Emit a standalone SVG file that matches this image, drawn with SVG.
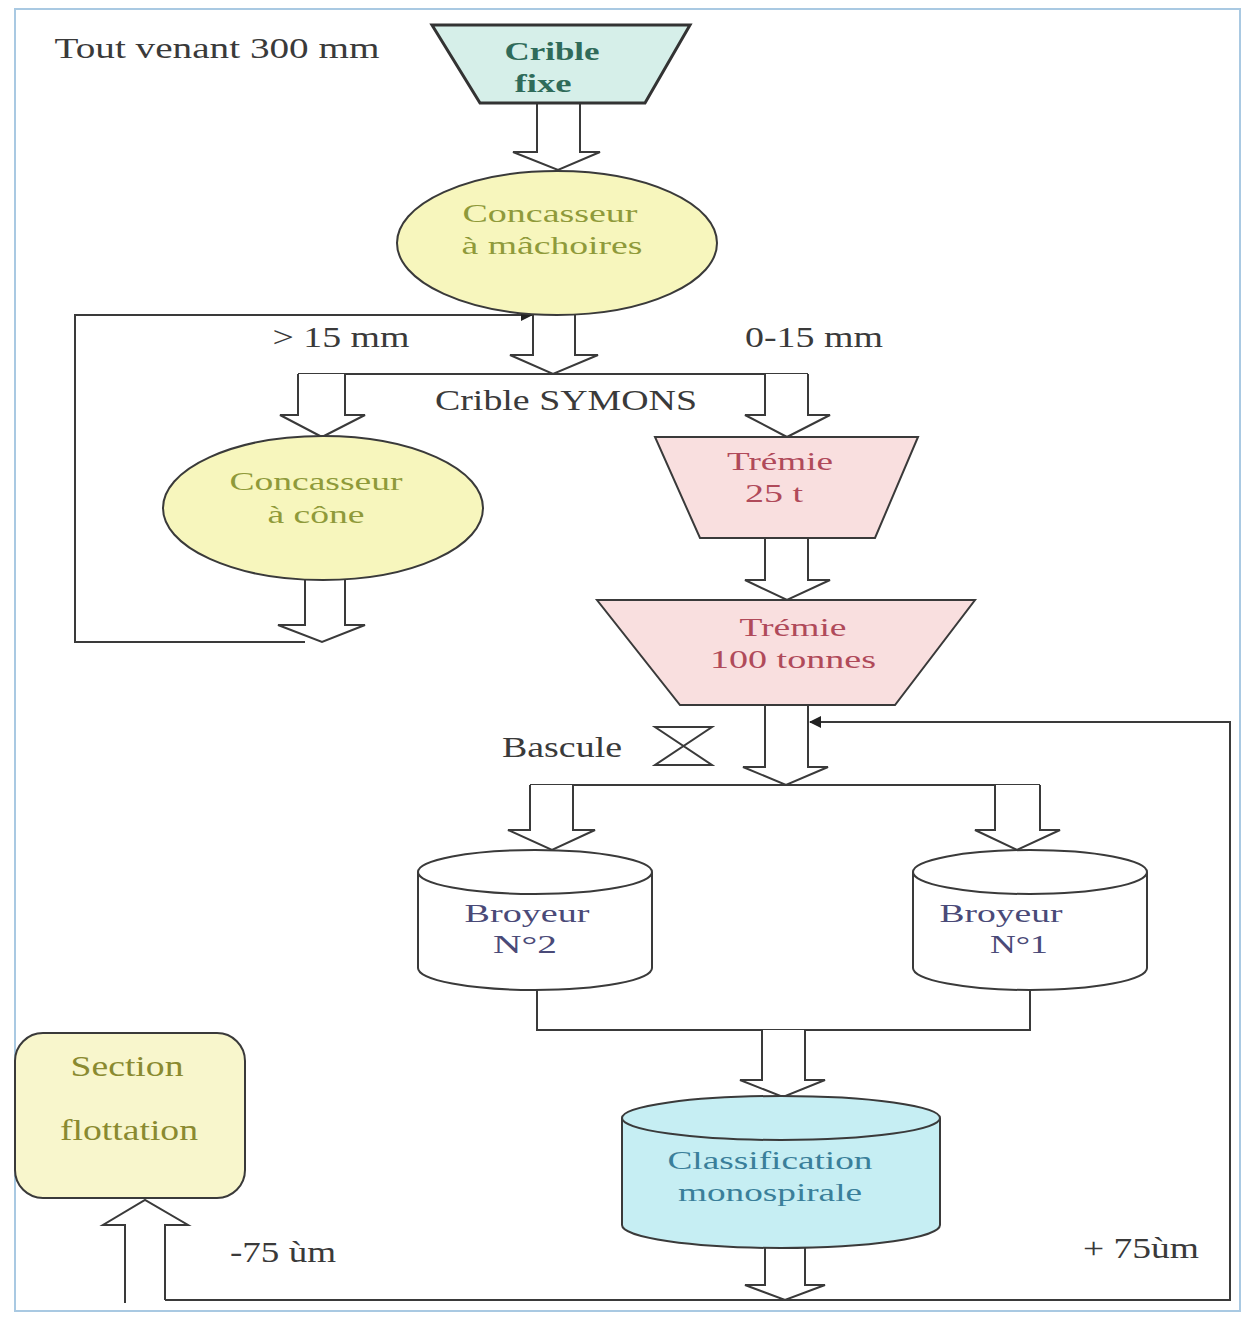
<svg xmlns="http://www.w3.org/2000/svg" width="1246" height="1317" viewBox="0 0 1246 1317">
<defs>
<style>
text{font-family:"Liberation Serif","Times New Roman",serif;font-size:29px;text-anchor:middle}
text.two{font-size:26px}
.lbl{fill:#3a3a3a}
.sh{stroke:#3a3a3a;stroke-width:2}
.arr{fill:#fff;stroke:#3a3a3a;stroke-width:2;stroke-linejoin:miter}
.ln{fill:none;stroke:#3a3a3a;stroke-width:2}
</style>
<marker id="ah" markerWidth="12" markerHeight="12" refX="11" refY="6" orient="auto" markerUnits="userSpaceOnUse">
<path d="M0,0 L12,6 L0,12 Z" fill="#222"/>
</marker>
</defs>
<rect x="0" y="0" width="1246" height="1317" fill="#fff"/>
<rect x="15" y="9" width="1225" height="1302" fill="none" stroke="#a9c9e2" stroke-width="2"/>

<g id="connectors">
<path class="ln" d="M305 642 H75 V315 H532" marker-end="url(#ah)"/>
<path class="ln" d="M165 1300 H1230 V722 H810" marker-end="url(#ah)"/>
<path class="ln" d="M537 990 V1030 H1030 V990"/>
<path class="arr" d="M537 103 V152 H513 L558 170 L600 152 H580 V103"/>
<path class="arr" d="M533 315 V355 H510 L553 374 L598 355 H575 V315"/>
<path class="ln" d="M298 374 H808"/>
<path class="arr" d="M298 374 V415 H280 L322 437 L365 415 H345 V374"/>
<path class="arr" d="M765 374 V415 H745 L787 437 L830 415 H808 V374"/>
<path class="arr" d="M305 580 V625 H278 L322 642 L365 625 H345 V580"/>
<path class="arr" d="M765 538 V580 H745 L787 600 L830 580 H808 V538"/>
<path class="arr" d="M765 705 V767 H743 L786 785 L828 767 H808 V705"/>
<path class="ln" d="M530 785 H1040"/>
<path class="arr" d="M530 785 V830 H508 L552 850 L595 830 H573 V785"/>
<path class="arr" d="M995 785 V830 H975 L1017 850 L1060 830 H1040 V785"/>
<path class="arr" d="M762 1030 V1080 H740 L783 1097 L825 1080 H805 V1030"/>
<path class="arr" d="M765 1248 V1285 H745 L785 1300 L825 1285 H805 V1248"/>
<path class="arr" d="M125 1303 V1225 H103 L145 1200 L188 1225 H165 V1300"/>
</g>

<g id="tout-venant">
<text class="lbl" x="217" y="58" textLength="325" lengthAdjust="spacingAndGlyphs">Tout venant 300 mm</text>
</g>

<g id="crible-fixe">
<path d="M432 25 H690 L645 103 H480 Z" fill="#d6efe9" stroke="#333" stroke-width="3"/>
<text class="two" x="552" y="60" fill="#2f6b5a" font-weight="bold" textLength="95" lengthAdjust="spacingAndGlyphs">Crible</text>
<text class="two" x="543" y="92" fill="#2f6b5a" font-weight="bold" textLength="57" lengthAdjust="spacingAndGlyphs">fixe</text>
</g>

<g id="concasseur-machoires">
<ellipse cx="557" cy="243" rx="160" ry="72" fill="#f7f6bd" class="sh"/>
<text class="two" x="550" y="222" fill="#8f9a3a" textLength="175" lengthAdjust="spacingAndGlyphs">Concasseur</text>
<text class="two" x="552" y="254" fill="#8f9a3a" textLength="181" lengthAdjust="spacingAndGlyphs">à mâchoires</text>
</g>

<g id="labels-symons">
<text class="lbl" x="341" y="347" textLength="137" lengthAdjust="spacingAndGlyphs">&gt; 15 mm</text>
<text class="lbl" x="814" y="347" textLength="138" lengthAdjust="spacingAndGlyphs">0-15 mm</text>
<text class="lbl" x="566" y="410" textLength="262" lengthAdjust="spacingAndGlyphs">Crible SYMONS</text>
</g>

<g id="concasseur-cone">
<ellipse cx="323" cy="508" rx="160" ry="72" fill="#f7f6bd" class="sh"/>
<text class="two" x="316" y="490" fill="#8f9a3a" textLength="173" lengthAdjust="spacingAndGlyphs">Concasseur</text>
<text class="two" x="316" y="523" fill="#8f9a3a" textLength="97" lengthAdjust="spacingAndGlyphs">à cône</text>
</g>

<g id="tremie-25">
<path d="M655 437 H918 L875 538 H700 Z" fill="#f9dfdf" class="sh"/>
<text class="two" x="780" y="470" fill="#b04a5a" textLength="106" lengthAdjust="spacingAndGlyphs">Trémie</text>
<text class="two" x="774" y="502" fill="#b04a5a" textLength="58" lengthAdjust="spacingAndGlyphs">25 t</text>
</g>

<g id="tremie-100">
<path d="M597 600 H975 L895 705 H680 Z" fill="#f9dfdf" class="sh"/>
<text class="two" x="793" y="636" fill="#b04a5a" textLength="107" lengthAdjust="spacingAndGlyphs">Trémie</text>
<text class="two" x="793" y="668" fill="#b04a5a" textLength="166" lengthAdjust="spacingAndGlyphs">100 tonnes</text>
</g>

<g id="bascule">
<text class="lbl" x="562" y="757" textLength="120" lengthAdjust="spacingAndGlyphs">Bascule</text>
<path d="M655 727 H712 L655 765 H712 Z" fill="none" stroke="#3a3a3a" stroke-width="2"/>
</g>

<g id="broyeur-2">
<path d="M418 872 A117 22 0 0 1 652 872 V968 A117 22 0 0 1 418 968 Z" fill="#fff" class="sh"/>
<path d="M418 872 A117 22 0 0 0 652 872" fill="none" class="sh"/>
<text class="two" x="527" y="922" fill="#4a4a78" textLength="125" lengthAdjust="spacingAndGlyphs">Broyeur</text>
<text class="two" x="525" y="953" fill="#4a4a78" textLength="64" lengthAdjust="spacingAndGlyphs">N°2</text>
</g>

<g id="broyeur-1">
<path d="M913 872 A117 22 0 0 1 1147 872 V968 A117 22 0 0 1 913 968 Z" fill="#fff" class="sh"/>
<path d="M913 872 A117 22 0 0 0 1147 872" fill="none" class="sh"/>
<text class="two" x="1001" y="922" fill="#4a4a78" textLength="123" lengthAdjust="spacingAndGlyphs">Broyeur</text>
<text class="two" x="1019" y="953" fill="#4a4a78" textLength="58" lengthAdjust="spacingAndGlyphs">N°1</text>
</g>

<g id="classification">
<path d="M622 1118 A159 22 0 0 1 940 1118 V1225 A159 23 0 0 1 622 1225 Z" fill="#c6eef3" class="sh"/>
<path d="M622 1118 A159 22 0 0 0 940 1118" fill="none" class="sh"/>
<text class="two" x="770" y="1169" fill="#3a7f9a" textLength="205" lengthAdjust="spacingAndGlyphs">Classification</text>
<text class="two" x="770" y="1201" fill="#3a7f9a" textLength="184" lengthAdjust="spacingAndGlyphs">monospirale</text>
</g>

<g id="section-flottation">
<rect x="15" y="1033" width="230" height="165" rx="28" fill="#f8f6cc" class="sh"/>
<text x="127" y="1076" fill="#8a8a30" textLength="113" lengthAdjust="spacingAndGlyphs">Section</text>
<text x="129" y="1140" fill="#8a8a30" textLength="138" lengthAdjust="spacingAndGlyphs">flottation</text>
</g>

<g id="labels-bottom">
<text class="lbl" x="283" y="1262" textLength="106" lengthAdjust="spacingAndGlyphs">-75 ùm</text>
<text class="lbl" x="1141" y="1258" textLength="116" lengthAdjust="spacingAndGlyphs">+ 75ùm</text>
</g>
</svg>
